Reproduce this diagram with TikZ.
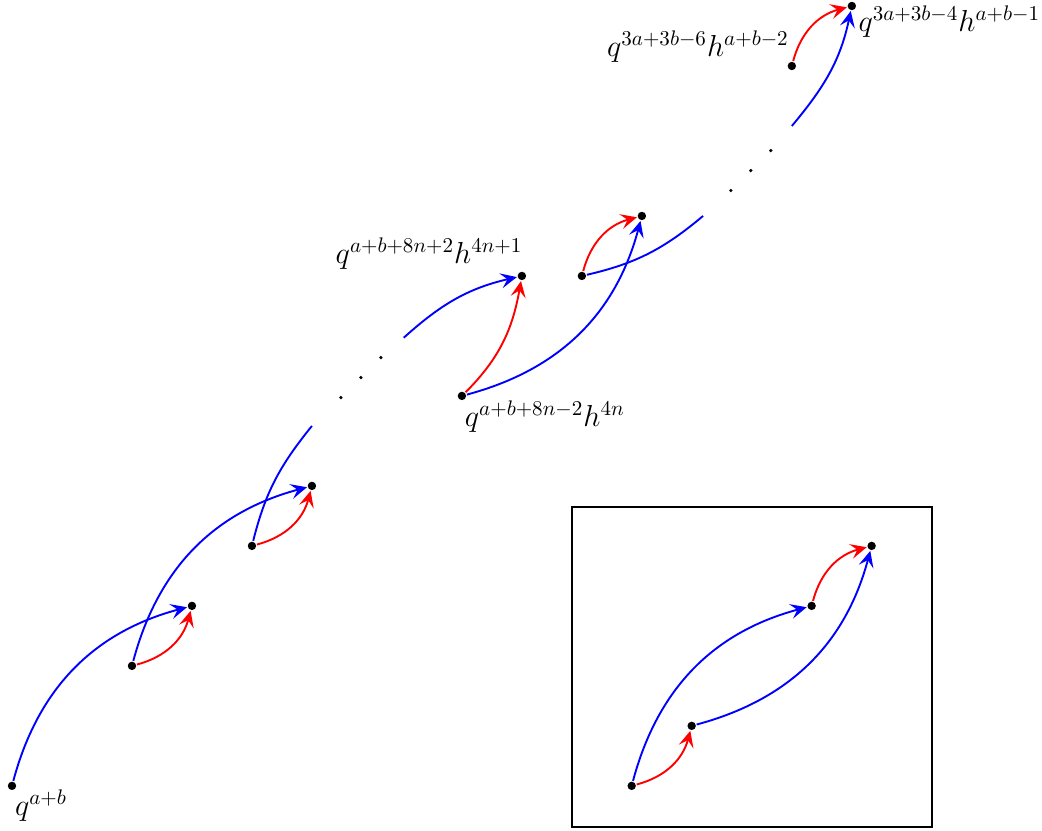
\documentclass[tikz,border=0pt]{standalone}
\usetikzlibrary{arrows.meta, positioning}
\tikzset{
  every picture/.style={line width=0.9pt},
  pt/.style={circle, fill=black, inner sep=0pt, minimum size=1.4mm},
  tinydot/.style={circle, fill=black, inner sep=0pt, minimum size=0.6mm},
  arr/.style={-{Stealth[length=2.7mm, width=2.5mm, inset=1.1mm]}},
  bluearr/.style={arr, draw=blue},
  redarr/.style={arr, draw=red},
  bluepart/.style={draw=blue},
  lbl/.style={font=\Large, inner sep=1pt},
}
\begin{document}
\begin{tikzpicture}
  \useasboundingbox (-0.2,-0.75) rectangle (17.17,13.1);
  \node[pt] (q0) at (0,0) {};
  \node[pt] (q1) at (2,2) {};
  \node[pt] (q2) at (3,3) {};
  \node[pt] (q3) at (4,4) {};
  \node[pt] (q4) at (5,5) {};
  \coordinate (q5) at (5,6);
  \node[pt] (c) at (7.5,6.5) {};
  \node[pt] (b) at (8.5,8.5) {};
  \node[pt] (e) at (9.5,8.5) {};
  \node[pt] (d) at (10.5,9.5) {};
  \coordinate (s1) at (6.53,7.47);
  \coordinate (s2) at (11.52,9.5);
  \coordinate (s3) at (13,11);
  \node[pt] (g) at (13,12) {};
  \node[pt] (f) at (14,13) {};
  \node[lbl, anchor=north west] at ([yshift=2pt]q0.south) {$q^{a+b}$};
  \node[lbl, anchor=south east] at (b.north east) {$q^{a+b+8n+2}h^{4n+1}$};
  \node[lbl, anchor=north west] at ([yshift=1.5pt]c.south) {$q^{a+b+8n-2}h^{4n}$};
  \node[lbl, anchor=south east] at ([yshift=-2pt]g.north) {$q^{3a+3b-6}h^{a+b-2}$};
  \node[lbl, anchor=north west] at (f.north east) {$q^{3a+3b-4}h^{a+b-1}$};
  \draw[bluearr] (q0) to[bend left=30] (q2);
  \draw[redarr] (q1) to[bend right=30] (q2);
  \draw[bluearr] (q1) to[bend left=30] (q4);
  \draw[redarr] (q3) to[bend right=30] (q4);
  \draw[bluepart] (q3) to[out=76, in=231] (q5);
  \foreach \k in {1,2,3} \node[tinydot] at ({5.15+\k/3},{6.14+\k/3}) {};
  \draw[bluearr] (s1) to[out=42, in=193] (b);
  \draw[redarr] (c) to[out=45, in=260] (b);
  \draw[bluearr] (c) to[bend right=30] (d);
  \draw[redarr] (e) to[bend left=30] (d);
  \draw[bluepart] (e) to[out=13, in=220] (s2);
  \foreach \k in {1,2,3} \node[tinydot] at ({11.65+\k/3},{9.59+\k/3}) {};
  \draw[bluearr] (s3) to[out=50, in=258] (f);
  \draw[redarr] (g) to[bend left=30] (f);
  \draw (9.33,-0.68) rectangle (15.33,4.65);
  \node[pt] (p0) at (10.33,0) {};
  \node[pt] (p1) at (11.33,1) {};
  \node[pt] (p2) at (13.33,3) {};
  \node[pt] (p3) at (14.33,4) {};
  \draw[redarr] (p0) to[bend right=30] (p1);
  \draw[bluearr] (p0) to[bend left=30] (p2);
  \draw[bluearr] (p1) to[bend right=30] (p3);
  \draw[redarr] (p2) to[bend left=30] (p3);
\end{tikzpicture}
\end{document}
